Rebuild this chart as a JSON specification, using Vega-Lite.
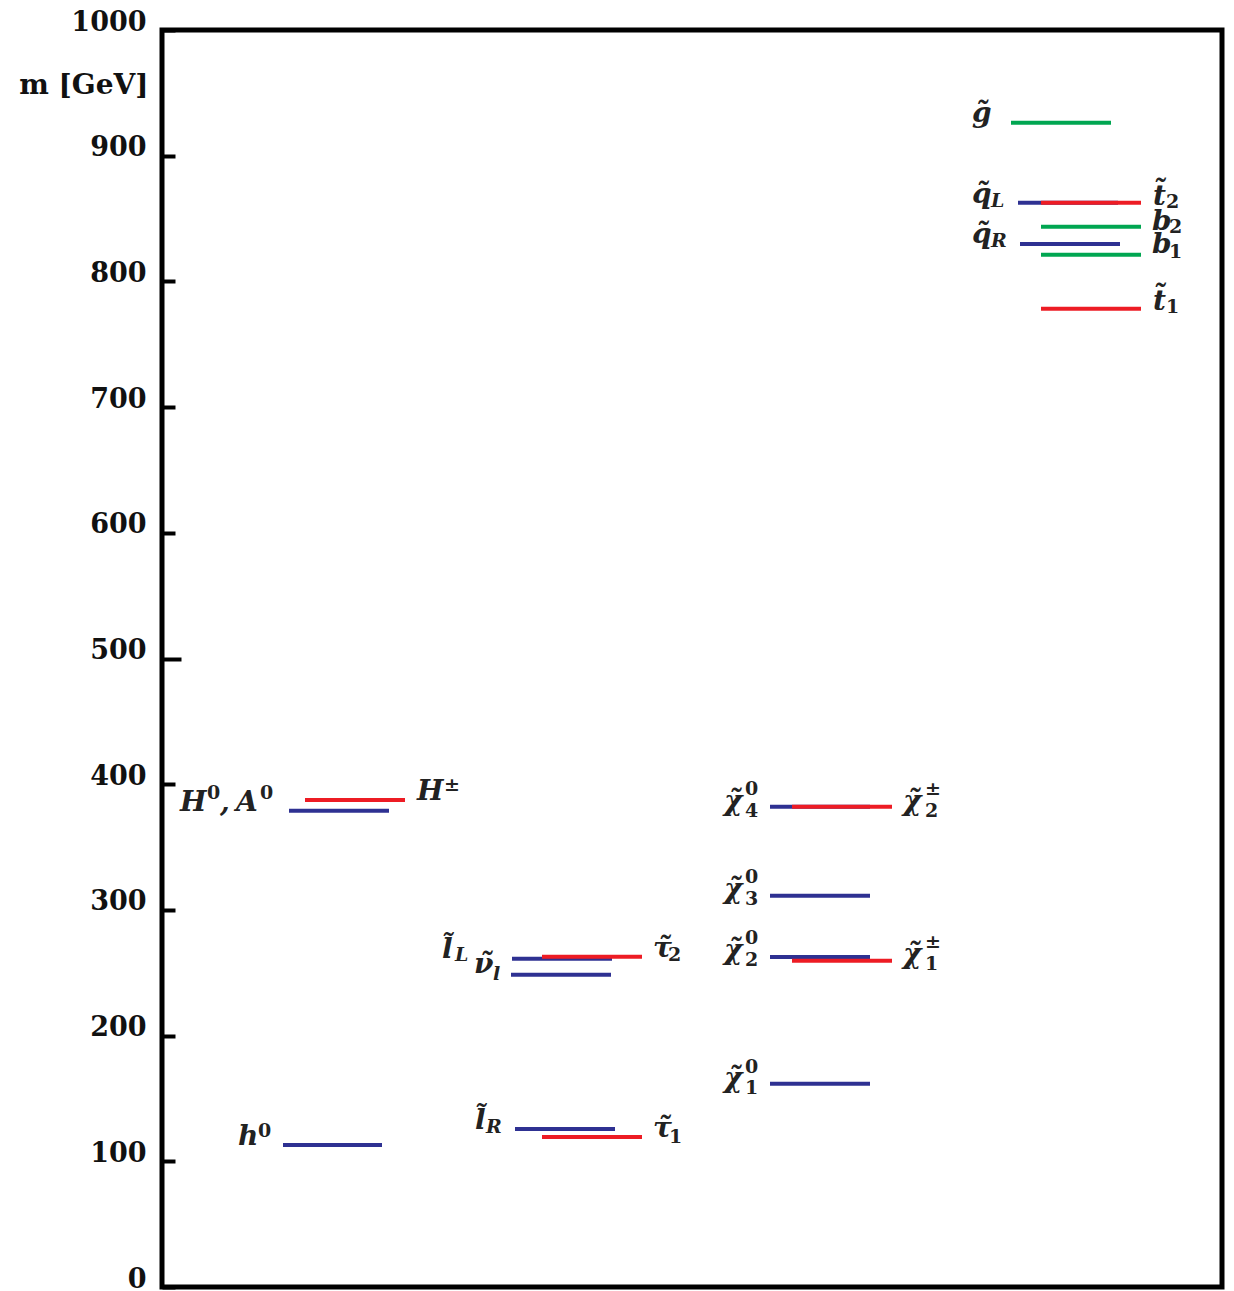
{
  "$schema": "https://vega.github.io/schema/vega-lite/v6.json",
  "width": 1060,
  "height": 1257,
  "autosize": "none",
  "padding": {"left": 162, "top": 30, "right": 12, "bottom": 4},
  "background": "white",
  "config": {"view": {"stroke": "black", "strokeWidth": 5}},
  "datasets": {
    "levels": [
      {"p": "h0", "x1": 121, "x2": 220, "m": 113.0, "c": "blue"},
      {"p": "H0A0", "x1": 127, "x2": 227, "m": 378.9, "c": "blue"},
      {"p": "lR", "x1": 353, "x2": 453, "m": 125.7, "c": "blue"},
      {"p": "lL", "x1": 350, "x2": 450, "m": 261.2, "c": "blue"},
      {"p": "nu", "x1": 349, "x2": 449, "m": 248.5, "c": "blue"},
      {"p": "N1", "x1": 608, "x2": 708, "m": 161.7, "c": "blue"},
      {"p": "N2", "x1": 608, "x2": 708, "m": 262.5, "c": "blue"},
      {"p": "N3", "x1": 608, "x2": 708, "m": 311.3, "c": "blue"},
      {"p": "N4", "x1": 608, "x2": 708, "m": 382.1, "c": "blue"},
      {"p": "qL", "x1": 856, "x2": 956, "m": 862.6, "c": "blue"},
      {"p": "qR", "x1": 858, "x2": 958, "m": 829.8, "c": "blue"},
      {"p": "Hpm", "x1": 143, "x2": 243, "m": 387.4, "c": "red"},
      {"p": "tau1", "x1": 380, "x2": 480, "m": 119.3, "c": "red"},
      {"p": "tau2", "x1": 380, "x2": 480, "m": 262.8, "c": "red"},
      {"p": "C1", "x1": 630, "x2": 730, "m": 259.6, "c": "red"},
      {"p": "C2", "x1": 630, "x2": 730, "m": 382.1, "c": "red"},
      {"p": "t2", "x1": 879, "x2": 979, "m": 862.6, "c": "red"},
      {"p": "t1", "x1": 879, "x2": 979, "m": 778.3, "c": "red"},
      {"p": "gluino", "x1": 849, "x2": 949, "m": 926.2, "c": "green"},
      {"p": "b2", "x1": 879, "x2": 979, "m": 843.5, "c": "green"},
      {"p": "b1", "x1": 879, "x2": 979, "m": 821.2, "c": "green"}
    ],
    "labels": [
      {"t": "h", "x": 76, "m": 113.0, "r": "main"},
      {"t": "0", "x": 96, "m": 119.3, "r": "num"},
      {"t": "H", "x": 18, "m": 378.9, "r": "main"},
      {"t": "0", "x": 45, "m": 388.2, "r": "num"},
      {"t": ",", "x": 58, "m": 378.9, "r": "main"},
      {"t": "A", "x": 74, "m": 378.9, "r": "main"},
      {"t": "0", "x": 98, "m": 388.2, "r": "num"},
      {"t": "H", "x": 255, "m": 387.4, "r": "main"},
      {"t": "±", "x": 282, "m": 394.5, "r": "num"},
      {"t": "l̃", "x": 280, "m": 261.7, "r": "main"},
      {"t": "L", "x": 293, "m": 259.3, "r": "sub"},
      {"t": "ν̃", "x": 312, "m": 249.8, "r": "main"},
      {"t": "l", "x": 331, "m": 244.2, "r": "sub"},
      {"t": "τ̃", "x": 491, "m": 262.8, "r": "main"},
      {"t": "2", "x": 506, "m": 259.5, "r": "num"},
      {"t": "l̃", "x": 313, "m": 125.7, "r": "main"},
      {"t": "R", "x": 324, "m": 122.5, "r": "sub"},
      {"t": "τ̃", "x": 491, "m": 119.3, "r": "main"},
      {"t": "1", "x": 507, "m": 114.6, "r": "num"},
      {"t": "χ̃", "x": 562, "m": 379.5, "r": "main"},
      {"t": "0", "x": 583, "m": 391.4, "r": "num"},
      {"t": "4", "x": 583, "m": 373.9, "r": "num"},
      {"t": "χ̃", "x": 562, "m": 309.5, "r": "main"},
      {"t": "0", "x": 583, "m": 321.4, "r": "num"},
      {"t": "3", "x": 583, "m": 303.9, "r": "num"},
      {"t": "χ̃", "x": 562, "m": 260.9, "r": "main"},
      {"t": "0", "x": 583, "m": 272.9, "r": "num"},
      {"t": "2", "x": 583, "m": 255.4, "r": "num"},
      {"t": "χ̃", "x": 562, "m": 159.1, "r": "main"},
      {"t": "0", "x": 583, "m": 170.2, "r": "num"},
      {"t": "1", "x": 583, "m": 153.5, "r": "num"},
      {"t": "χ̃", "x": 741, "m": 379.5, "r": "main"},
      {"t": "±", "x": 763, "m": 391.4, "r": "num"},
      {"t": "2", "x": 763, "m": 373.9, "r": "num"},
      {"t": "χ̃", "x": 741, "m": 257.8, "r": "main"},
      {"t": "±", "x": 763, "m": 269.7, "r": "num"},
      {"t": "1", "x": 763, "m": 252.2, "r": "num"},
      {"t": "g̃", "x": 810, "m": 926.8, "r": "main"},
      {"t": "q̃", "x": 810, "m": 862.4, "r": "main"},
      {"t": "L", "x": 829, "m": 859.2, "r": "sub"},
      {"t": "q̃", "x": 810, "m": 830.5, "r": "main"},
      {"t": "R", "x": 829, "m": 827.4, "r": "sub"},
      {"t": "t̃", "x": 991, "m": 860.8, "r": "main"},
      {"t": "2", "x": 1004, "m": 858.0, "r": "num"},
      {"t": "b", "x": 990, "m": 840.9, "r": "main"},
      {"t": "2", "x": 1007, "m": 838.5, "r": "num"},
      {"t": "b", "x": 990, "m": 822.6, "r": "main"},
      {"t": "1", "x": 1007, "m": 818.6, "r": "num"},
      {"t": "t̃", "x": 991, "m": 777.3, "r": "main"},
      {"t": "1", "x": 1004, "m": 774.9, "r": "num"}
    ]
  },
  "layer": [
    {
      "data": {"name": "levels"},
      "mark": {"type": "rule", "strokeWidth": 4},
      "encoding": {
        "x": {"field": "x1", "type": "quantitative", "scale": {"domain": [0, 1060], "nice": false, "zero": false}, "axis": null},
        "x2": {"field": "x2"},
        "y": {
          "field": "m",
          "type": "quantitative",
          "scale": {"domain": [0, 1000], "nice": false, "zero": true},
          "axis": {
            "values": [0, 100, 200, 300, 400, 500, 600, 700, 800, 900, 1000],
            "format": "d",
            "domain": false,
            "grid": false,
            "tickColor": "black",
            "tickWidth": 4,
            "tickSize": {"condition": {"test": "datum.value === 500", "value": -19}, "value": -13},
            "labelPadding": {"condition": {"test": "datum.value === 500", "value": 35}, "value": 29},
            "labelFont": "DejaVu Serif",
            "labelFontWeight": "bold",
            "labelFontSize": 27,
            "labelColor": "#111",
            "labelBaseline": "alphabetic",
            "labelFlush": false,
            "labelOverlap": false,
            "title": "m [GeV]",
            "titleAngle": 0,
            "titleAlign": "right",
            "titleBaseline": "alphabetic",
            "titleX": -14,
            "titleY": 63,
            "titleFont": "DejaVu Serif",
            "titleFontWeight": "bold",
            "titleFontSize": 28,
            "titleColor": "#111"
          }
        },
        "color": {"field": "c", "type": "nominal", "scale": {"domain": ["blue", "red", "green"], "range": ["#2e3192", "#ed1c24", "#00a651"]}, "legend": null}
      }
    },
    {
      "data": {"name": "labels"},
      "transform": [{"filter": "datum.r === 'main'"}],
      "mark": {"type": "text", "align": "left", "baseline": "alphabetic", "font": "DejaVu Serif", "fontWeight": "bold", "fontStyle": "italic", "fontSize": 28, "color": "#222"},
      "encoding": {
        "x": {"field": "x", "type": "quantitative", "scale": {"domain": [0, 1060], "nice": false, "zero": false}},
        "y": {"field": "m", "type": "quantitative", "scale": {"domain": [0, 1000], "nice": false}},
        "text": {"field": "t"}
      }
    },
    {
      "data": {"name": "labels"},
      "transform": [{"filter": "datum.r === 'sub'"}],
      "mark": {"type": "text", "align": "left", "baseline": "alphabetic", "font": "DejaVu Serif", "fontWeight": "bold", "fontStyle": "italic", "fontSize": 19, "color": "#222"},
      "encoding": {
        "x": {"field": "x", "type": "quantitative", "scale": {"domain": [0, 1060], "nice": false, "zero": false}},
        "y": {"field": "m", "type": "quantitative", "scale": {"domain": [0, 1000], "nice": false}},
        "text": {"field": "t"}
      }
    },
    {
      "data": {"name": "labels"},
      "transform": [{"filter": "datum.r === 'num'"}],
      "mark": {"type": "text", "align": "left", "baseline": "alphabetic", "font": "DejaVu Serif", "fontWeight": "bold", "fontSize": 19, "color": "#222"},
      "encoding": {
        "x": {"field": "x", "type": "quantitative", "scale": {"domain": [0, 1060], "nice": false, "zero": false}},
        "y": {"field": "m", "type": "quantitative", "scale": {"domain": [0, 1000], "nice": false}},
        "text": {"field": "t"}
      }
    }
  ]
}
